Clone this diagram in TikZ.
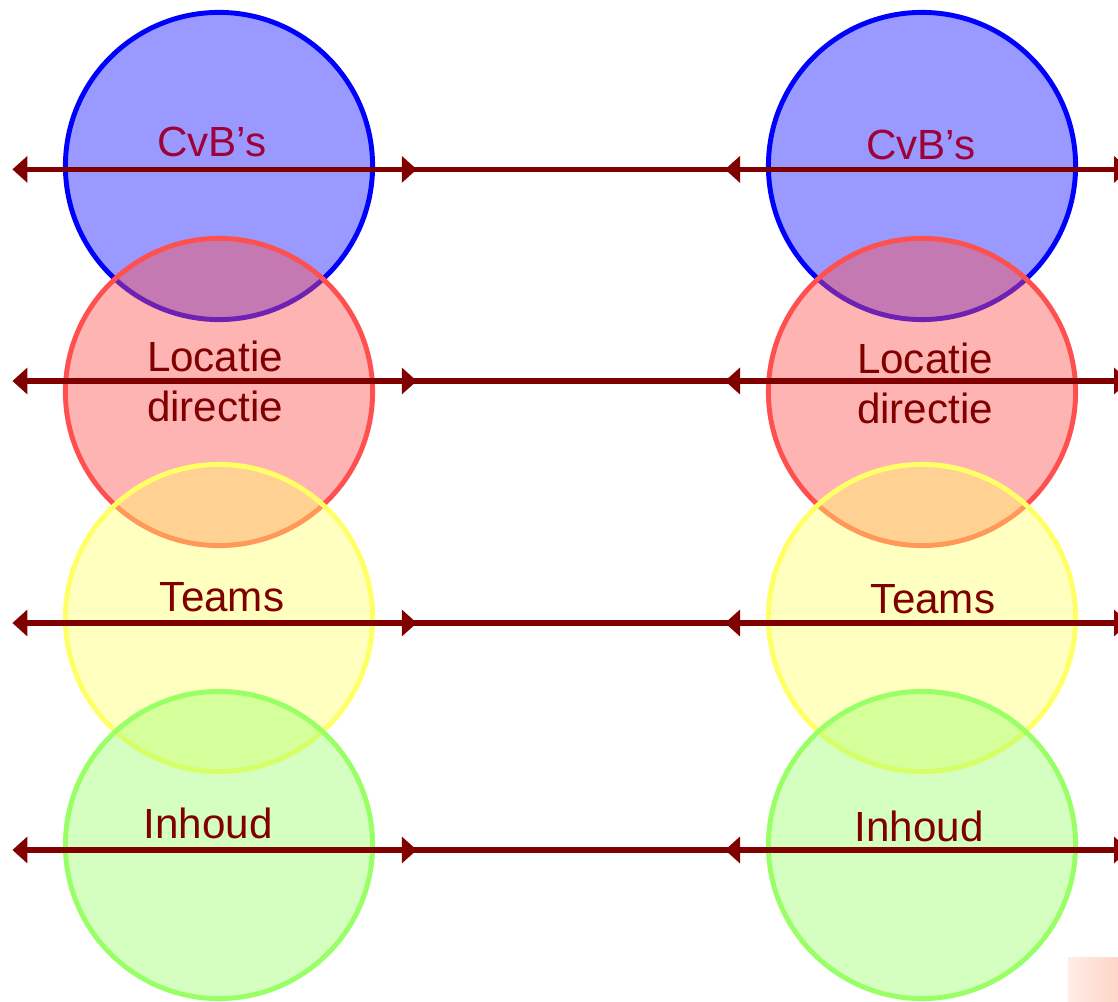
\documentclass[tikz,border=0pt]{standalone}
\usepackage{xcolor}
\usepackage{fontspec}
\setmainfont{Liberation Sans}
\usepackage{tikz}
\usetikzlibrary{arrows.meta}
\definecolor{textColor}{HTML}{800000}
\definecolor{cvbColor}{HTML}{A00038}
\definecolor{blueColor}{HTML}{0000FF}
\definecolor{redColor}{HTML}{FF5050}
\definecolor{yellowColor}{HTML}{FFFF66}
\definecolor{greenColor}{HTML}{99FF66}
\definecolor{cornerLeft}{HTML}{FFEDE6}
\definecolor{cornerRight}{HTML}{FFD5C8}

\begin{document}
\begin{tikzpicture}[
vertex/.style={shape=circle,line width=3.5pt,minimum size=7.68cm,inner sep=0},
blueVertex/.style={vertex,draw=blueColor,fill=blueColor,fill opacity=0.4},
redVertex/.style={vertex,draw=redColor,fill=redColor,fill opacity=0.43},
yellowVertex/.style={vertex,draw=yellowColor,fill=yellowColor,fill opacity=0.41},
greenVertex/.style={vertex,draw=greenColor,fill=greenColor,fill opacity=0.41},
myarrow/.style={{Triangle[length=0.375cm,width=0.65cm]}-{Triangle[length=0.375cm,width=0.65cm]},line width=3.9pt,draw=textColor},
myedge/.style={line width=3.9pt,draw=textColor,shorten <=-0.3cm,shorten >=-0.3cm},
levelText/.style={text=textColor,font=\fontsize{30}{35.6}\selectfont,inner sep=0,align=center}
]
\useasboundingbox (0,0) rectangle (27.95,25.025);
% circles, top to bottom
\node[blueVertex] (l1) at (5.475,20.875) {};
\node[blueVertex] (r1) at (23.05,20.875) {};
\node[redVertex] (l2) at (5.475,15.225) {};
\node[redVertex] (r2) at (23.05,15.225) {};
\node[yellowVertex] (l3) at (5.475,9.575) {};
\node[yellowVertex] (r3) at (23.05,9.575) {};
\node[greenVertex] (l4) at (5.475,3.9) {};
\node[greenVertex] (r4) at (23.05,3.9) {};
% arrow ends
\coordinate (lw1) at (0.31,20.79);
\coordinate (le1) at (10.42,20.79);
\coordinate (rw1) at (18.125,20.79);
\coordinate (re1) at (28.225,20.79);
\coordinate (lw2) at (0.31,15.5);
\coordinate (le2) at (10.42,15.5);
\coordinate (rw2) at (18.125,15.5);
\coordinate (re2) at (28.225,15.5);
\coordinate (lw3) at (0.31,9.45);
\coordinate (le3) at (10.42,9.45);
\coordinate (rw3) at (18.125,9.45);
\coordinate (re3) at (28.225,9.45);
\coordinate (lw4) at (0.31,3.775);
\coordinate (le4) at (10.42,3.775);
\coordinate (rw4) at (18.125,3.775);
\coordinate (re4) at (28.225,3.775);
\draw[myedge] (le1) -- (rw1);
\draw[myedge] (le2) -- (rw2);
\draw[myedge] (le3) -- (rw3);
\draw[myedge] (le4) -- (rw4);
\draw[myarrow] (lw1) -- (le1);
\draw[myarrow] (rw1) -- (re1);
\draw[myarrow] (lw2) -- (le2);
\draw[myarrow] (rw2) -- (re2);
\draw[myarrow] (lw3) -- (le3);
\draw[myarrow] (rw3) -- (re3);
\draw[myarrow] (lw4) -- (le4);
\draw[myarrow] (rw4) -- (re4);
% labels
\node[levelText,text=cvbColor,anchor=base] (lt1) at (5.3,21.1) {CvB’s};
\node[levelText,text=cvbColor,anchor=base] (rt1) at (23.025,21.025) {CvB’s};
\node[levelText] (lt2) at (5.375,15.5) {Locatie\\directie};
\node[levelText] (rt2) at (23.125,15.45) {Locatie\\directie};
\node[levelText,anchor=base] (lt3) at (5.55,9.725) {Teams};
\node[levelText,anchor=base] (rt3) at (23.325,9.675) {Teams};
\node[levelText,anchor=base] (lt4) at (5.2,4.075) {Inhoud};
\node[levelText,anchor=base] (rt4) at (22.975,4.0) {Inhoud};
% corner patch
\shade[left color=cornerLeft,right color=cornerRight] (26.7,0) rectangle (27.95,1.1);
\end{tikzpicture}
\end{document}
